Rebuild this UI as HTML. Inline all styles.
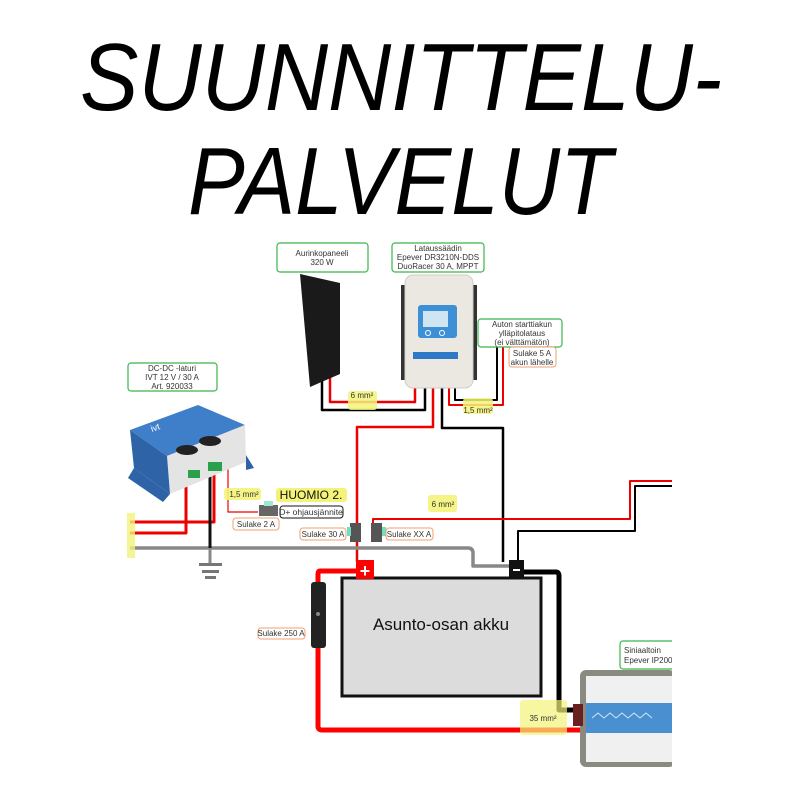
<!DOCTYPE html>
<html><head><meta charset="utf-8"><style>
html,body{margin:0;padding:0;background:#fff;}
svg{display:block;}
text{font-family:"Liberation Sans",sans-serif;}
</style></head><body>
<svg width="800" height="800" viewBox="0 0 800 800" xmlns="http://www.w3.org/2000/svg">
<rect width="800" height="800" fill="#fff"/>
<text x="80" y="110" font-size="96" font-style="italic" textLength="642" lengthAdjust="spacingAndGlyphs" fill="#000">SUUNNITTELU-</text>
<text x="188" y="214" font-size="96" font-style="italic" textLength="424" lengthAdjust="spacingAndGlyphs" fill="#000">PALVELUT</text>

<g fill="none" stroke-linejoin="round">
<!-- panel wires -->
<path d="M330 372 V402 H415 V388" stroke="#e00" stroke-width="2.5"/>
<path d="M322 380 V410 H425 V388" stroke="#000" stroke-width="2.5"/>
<!-- controller to battery -->
<path d="M433 388 V427 H357 V562" stroke="#e00" stroke-width="2.5"/>
<path d="M442 388 V428 H503 V562" stroke="#000" stroke-width="2.5"/>
<!-- controller to starter battery -->
<path d="M455 388 V400 H497 V347" stroke="#000" stroke-width="2"/>
<path d="M449 388 V405 H503 V347" stroke="#e00" stroke-width="2"/>
<!-- thin 6mm2 to right -->
<path d="M373 530 V519 H630 V481 H672" stroke="#e00" stroke-width="2"/>
<path d="M518 562 V531 H635 V486 H672" stroke="#000" stroke-width="2"/>
<!-- gray wire -->
<path d="M130 548 H468 Q473 548 473 553 V566 H510" stroke="#888" stroke-width="3.5"/>
<path d="M210 548 V564" stroke="#888" stroke-width="3"/>
<!-- DC-DC wires -->
<path d="M130 522 H214 V468" stroke="#e00" stroke-width="3"/>
<path d="M130 533 H186 V475" stroke="#e00" stroke-width="3"/>
<path d="M210 470 V548" stroke="#111" stroke-width="3"/>
<path d="M228 468 V512 H258" stroke="#e00" stroke-width="1.2"/>
<!-- thick battery wires -->
<path d="M360 571 H320 Q318 571 318 575 V726 Q318 730 322 730 H582" stroke="#f00" stroke-width="5"/>
<path d="M520 572 H556 Q559 572 559 576 V710 H583" stroke="#000" stroke-width="5"/>
</g>
<!-- ground symbol -->
<rect x="199" y="563" width="23" height="3" fill="#777"/>
<rect x="202" y="570" width="17" height="3" fill="#777"/>
<rect x="205" y="576" width="11" height="3" fill="#777"/>

<!-- left yellow strip -->
<rect x="127" y="513" width="8" height="45" fill="#f3f37a" opacity="0.8"/>

<!-- solar panel -->
<polygon points="300,274 340,283 340,374 310,387" fill="#1a1a1a"/>
<!-- controller -->
<rect x="401" y="285" width="5" height="95" fill="#333"/>
<rect x="472" y="285" width="5" height="95" fill="#333"/>
<rect x="405" y="275" width="68" height="113" rx="8" fill="#ebe8e2" stroke="#d0cdc6"/>
<rect x="418" y="305" width="39" height="33" rx="3" fill="#3d8fd6"/>
<rect x="423" y="311" width="25" height="16" fill="#cfe6f2"/>
<circle cx="428" cy="333" r="2.5" fill="none" stroke="#fff"/>
<circle cx="442" cy="333" r="2.5" fill="none" stroke="#fff"/>
<rect x="413" y="352" width="45" height="7" fill="#2f78c8"/>

<!-- DC-DC device -->
<polygon points="130,430 198,405 245,425 167,456" fill="#3f7fc9"/>
<polygon points="167,456 245,425 246,462 170,494" fill="#e4e4e4"/>
<polygon points="130,430 167,456 170,494 134,468" fill="#2e63a8"/>
<polygon points="134,468 170,494 163,502 128,478" fill="#2e63a8"/>
<polygon points="246,455 254,468 246,470" fill="#2e63a8"/>
<ellipse cx="187" cy="450" rx="11" ry="5" fill="#222"/>
<ellipse cx="210" cy="441" rx="11" ry="5" fill="#222"/>
<rect x="188" y="470" width="12" height="8" fill="#2aa04a"/>
<rect x="208" y="462" width="14" height="9" fill="#2aa04a"/>
<text x="152" y="432" font-size="9" fill="#fff" transform="rotate(-20 152 432)">ivt</text>

<!-- battery -->
<rect x="342" y="578" width="199" height="118" fill="#dcdcdc" stroke="#111" stroke-width="3"/>
<text x="441" y="630" font-size="17" text-anchor="middle" fill="#111">Asunto-osan akku</text>
<rect x="356" y="560" width="18" height="19" fill="#f00"/>
<text x="365" y="577" font-size="18" font-weight="bold" text-anchor="middle" fill="#fff">+</text>
<rect x="509" y="560" width="15" height="19" fill="#111"/>
<rect x="513" y="569" width="7" height="2" fill="#fff"/>

<!-- 250A fuse -->
<rect x="311" y="582" width="15" height="66" rx="3" fill="#222"/>
<circle cx="318" cy="614" r="2" fill="#888"/>

<!-- small fuses -->
<rect x="350" y="523" width="11" height="19" fill="#555"/>
<rect x="347" y="527" width="4" height="9" fill="#6ee0c0"/>
<rect x="371" y="523" width="11" height="19" fill="#555"/>
<rect x="382" y="527" width="4" height="9" fill="#6ee0c0"/>
<rect x="259" y="505" width="19" height="11" fill="#666"/>
<rect x="264" y="501" width="9" height="5" fill="#9ee8d0"/>

<!-- inverter -->
<rect x="580" y="670" width="95" height="97" rx="6" fill="#8a8a80"/>
<rect x="586" y="676" width="90" height="86" fill="#f0f0f0"/>
<rect x="586" y="703" width="90" height="30" fill="#4a8fd0"/>
<path d="M592 718 l6 -5 l6 5 l6 -5 l6 5 l6 -5 l6 5 l6 -5 l6 5 l6 -5 l6 5" fill="none" stroke="#cfe4f5" stroke-width="1"/>
<rect x="573" y="704" width="10" height="22" fill="#6a2020"/>
<rect x="672" y="460" width="128" height="340" fill="#fff"/>

<!-- yellow labels -->
<g font-size="8" text-anchor="middle" fill="#333">
<rect x="348" y="391" width="29" height="19" rx="3" fill="#f3f37a" opacity="0.85"/>
<text x="362" y="398">6 mm²</text>
<rect x="463" y="398" width="30" height="16" rx="3" fill="#f3f37a" opacity="0.85"/>
<text x="478" y="413">1,5 mm²</text>
<rect x="224" y="488" width="37" height="12" rx="3" fill="#f3f37a" opacity="0.9"/>
<text x="244" y="497">1,5 mm²</text>
<rect x="428" y="495" width="29" height="17" rx="3" fill="#f3f37a" opacity="0.9"/>
<text x="443" y="507">6 mm²</text>
<rect x="520" y="700" width="47" height="35" rx="3" fill="#f3f37a" opacity="0.7"/>
<text x="543" y="721">35 mm²</text>
<rect x="276" y="488" width="71" height="14" rx="3" fill="#f3f37a"/>
<text x="311" y="499" font-size="12" fill="#111">HUOMIO 2.</text>
</g>

<!-- green boxes -->
<g font-size="8" text-anchor="middle" fill="#333">
<rect x="277" y="243" width="91" height="29" rx="3" fill="#fff" stroke="#3cb44b" stroke-width="1.2"/>
<text x="322" y="256">Aurinkopaneeli</text><text x="322" y="265">320 W</text>
<rect x="392" y="243" width="92" height="29" rx="3" fill="#fff" stroke="#3cb44b" stroke-width="1.2"/>
<text x="438" y="251">Lataussäädin</text><text x="438" y="260">Epever DR3210N-DDS</text><text x="438" y="269">DuoRacer 30 A, MPPT</text>
<rect x="478" y="319" width="84" height="28" rx="3" fill="#fff" stroke="#3cb44b" stroke-width="1.2"/>
<text x="522" y="327">Auton starttiakun</text><text x="522" y="336">ylläpitolataus</text><text x="522" y="345">(ei välttämätön)</text>
<rect x="128" y="363" width="89" height="28" rx="3" fill="#fff" stroke="#3cb44b" stroke-width="1.2"/>
<text x="172" y="371">DC-DC -laturi</text><text x="172" y="380">IVT 12 V / 30 A</text><text x="172" y="389">Art. 920033</text>
<rect x="620" y="641" width="60" height="28" rx="3" fill="#fff" stroke="#3cb44b" stroke-width="1.2"/>
<text x="624" y="653" text-anchor="start">Siniaaltoin</text><text x="624" y="663" text-anchor="start">Epever IP2000</text>
<rect x="672" y="630" width="128" height="50" fill="#fff"/>
</g>

<!-- orange labels -->
<g font-size="8" text-anchor="middle" fill="#333">
<rect x="509" y="347" width="47" height="20" rx="3" fill="#fff" stroke="#f0a070"/>
<text x="532" y="356">Sulake 5 A</text><text x="532" y="365">akun lähelle</text>
<rect x="233" y="518" width="46" height="12" rx="3" fill="#fff" stroke="#f0a070"/>
<text x="256" y="527">Sulake 2 A</text>
<rect x="300" y="528" width="46" height="12" rx="3" fill="#fff" stroke="#f0a070"/>
<text x="323" y="537">Sulake 30 A</text>
<rect x="386" y="528" width="47" height="12" rx="3" fill="#fff" stroke="#f0a070"/>
<text x="409" y="537">Sulake XX A</text>
<rect x="258" y="628" width="47" height="11" rx="3" fill="#fff" stroke="#f0a070"/>
<text x="281" y="636">Sulake 250 A</text>
<rect x="280" y="506" width="63" height="12" rx="3" fill="#fff" stroke="#111"/>
<text x="311" y="515" font-size="8.5">D+ ohjausjännite</text>
</g>
</svg>
</body></html>
